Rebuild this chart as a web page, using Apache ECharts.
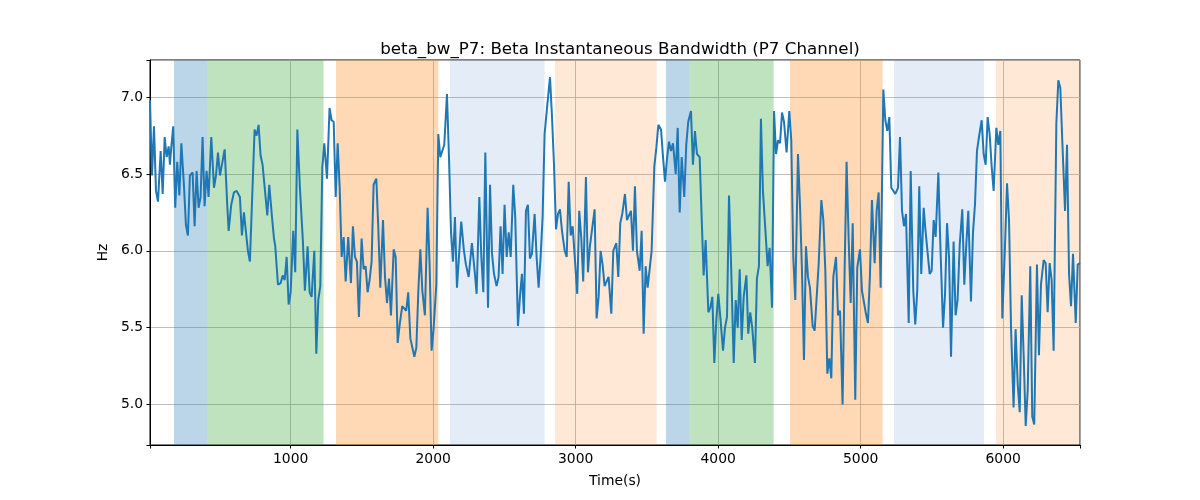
<!DOCTYPE html>
<html><head><meta charset="utf-8">
<script src="https://cdn.jsdelivr.net/npm/echarts@6/dist/echarts.min.js"></script>
<style>html,body{margin:0;padding:0;background:#fff}#c{width:1200px;height:500px}</style>
</head><body><div id="c"></div>
<script>
const times = [
13,27,41,55,69,88,102,116,130,144,153,162,176,190,204,219,233,251,265,279,293,312,326,340,354,368,382,396,410,424,443,462,476,490,504,518,537,555,565,583,602,621,635,644,658,672,686,700,714,728,747,761,775,789,803,817,836,850,869,883,892,911,930,944,958,972,986,1000,1018,1032,1047,1065,
1086,1100,1119,1133,1147,1166,1180,1194,1208,1222,1236,1255,1273,1287,1302,1316,1330,1344,1358,1372,1386,1404,1423,1437,1451,1465,1479,1498,1512,1526,1540,1554,1568,1582,1601,1615,1629,1648,1662,1676,1690,1704,1723,1737,1751,1765,1783,1797,1811,1825,1840,1854,1868,1882,1896,1910,1924,1942,1961,1975,1989,2003,2022,2036,2050,2064,2078,2097,2111,2125,2139,2153,2167,
2197,2216,2230,2249,2272,2291,2305,2324,2338,2352,2366,2385,2399,2413,2427,2445,2459,2473,2487,2501,2516,2530,2544,2562,2576,2595,2609,2623,2637,2651,2665,2679,2693,2712,2726,2740,2754,2768,2782,2801,2820,2834,2848,2862,2876,2890,2904,2923,2937,2951,2965,2979,2993,3011,3025,3039,3053,3072,3086,3100,3114,3133,3147,3161,3175,3189,3203,3217,3231,3250,3264,
3285,3299,3313,3327,3346,3360,3374,3388,3402,3416,3430,3449,3463,3477,3491,3505,3519,3533,3552,3566,3580,3599,3613,3627,3641,3655,3669,3683,3702,3716,3730,3744,3762,3776,3790,3809,3823,3837,3851,3870,3884,3898,3912,3931,3945,3959,3973,3987,4001,4015,4034,4048,4062,4076,4090,4109,4123,4137,4151,4165,4179,4198,4211,4225,4239,4258,4272,4286,4300,4314,4328,4347,4361,
4378,4392,4406,4420,4434,4448,4462,4480,4499,4513,4527,4541,4560,4574,4588,4602,4616,4630,4644,4663,4677,4691,4705,4724,4738,4752,4766,4780,4794,4808,4827,4841,4855,4873,4887,4901,4916,4930,4944,4962,4976,4995,5009,5023,5037,5051,5065,5079,5098,5112,5126,5140,5159,5173,5187,5201,5215,5229,5243,5262,5276,5290,5304,5318,5337,5351,5369,5383,5397,5411,5425,
5442,5456,5470,5484,5498,5512,5526,5545,5559,5578,5592,5606,5620,5634,5652,5666,5680,5695,5713,5727,5741,5755,5774,5788,5802,5816,5830,5849,5863,5877,5891,5905,5919,5933,5952,5966,5980,5994,6013,6027,6041,6055,6073,6087,6102,6116,6130,6144,6158,6172,6190,6204,6218,6237,6251,6265,6284,6298,6312,6326,6340,6354,6373,6387,6401,6415,6434,6448,6462,6476,6490,6509,6523,6539
];
const values = [
6.98,6.49,6.81,6.39,6.32,6.65,6.37,6.74,6.61,6.68,6.56,6.67,6.81,6.28,6.58,6.36,6.70,6.43,6.17,6.10,6.49,6.51,6.16,6.52,6.28,6.35,6.74,6.29,6.52,6.35,6.74,6.41,6.49,6.64,6.49,6.49,6.66,6.30,6.13,6.30,6.38,6.39,6.38,6.35,6.10,6.25,6.26,6.00,5.93,5.92,6.79,6.75,6.82,6.62,6.56,6.57,6.23,6.43,6.22,6.08,6.03,5.78,5.79,5.84,5.81,5.96,5.65,5.73,6.13,5.86,6.79,6.41,
6.06,5.74,6.03,5.73,5.70,6.00,5.33,5.68,5.77,6.54,6.70,6.47,6.93,6.85,6.84,6.35,6.70,6.41,5.96,6.09,5.80,6.09,5.79,6.16,5.96,5.93,5.57,6.08,5.88,5.90,5.73,5.81,5.93,6.43,6.47,6.15,5.76,6.20,5.83,5.66,5.82,5.58,6.01,5.96,5.40,5.52,5.64,5.64,5.61,5.73,5.43,5.43,5.31,5.37,5.74,6.01,5.74,5.58,6.28,5.91,5.35,5.49,5.78,6.76,6.61,6.62,6.69,7.02,6.61,6.13,5.93,6.22,5.76,
6.19,6.00,5.91,5.83,6.05,5.87,5.72,6.35,5.96,5.73,6.64,5.63,6.43,5.98,5.85,5.77,5.83,6.16,5.85,6.30,5.96,6.12,5.96,6.43,6.22,5.51,5.70,5.85,5.59,6.26,6.30,5.95,5.98,6.24,5.96,5.76,5.96,6.22,6.76,6.95,7.13,6.87,6.56,6.14,6.24,6.27,6.13,6.00,5.96,6.45,6.10,6.16,6.15,5.72,6.26,6.09,5.80,6.48,5.86,6.03,6.04,6.27,5.56,5.70,6.00,5.91,5.77,5.76,5.83,5.59,6.00,
6.05,5.83,6.18,6.24,6.37,6.20,6.20,6.26,6.00,6.42,6.00,5.87,6.13,5.46,5.90,5.76,5.77,6.00,6.55,6.67,6.82,6.79,6.61,6.45,6.60,6.71,6.65,6.70,6.50,6.80,6.25,6.61,6.35,6.69,6.84,6.91,6.56,6.78,6.63,6.61,6.22,5.84,6.07,5.60,5.63,5.70,5.27,5.55,5.72,5.57,5.35,5.50,5.57,6.36,5.93,5.27,5.68,5.50,5.88,5.42,5.70,5.84,5.46,5.60,5.50,5.27,5.82,5.90,6.86,6.39,6.39,5.90,6.02,
5.63,6.91,6.63,6.72,6.70,6.90,6.84,6.64,6.91,6.72,5.96,5.68,6.63,6.30,5.87,5.29,6.03,5.83,5.76,5.51,5.48,5.49,5.91,6.33,6.20,5.87,5.20,5.30,5.17,5.83,5.96,5.58,5.61,5.00,5.85,6.58,6.06,5.66,6.18,5.03,5.89,6.01,5.74,5.74,5.59,5.53,5.84,6.33,5.92,6.26,6.38,5.76,7.05,6.85,6.78,6.87,6.41,6.41,6.37,6.41,6.74,6.26,6.16,6.24,5.53,6.52,5.74,5.52,5.74,6.42,5.85,
6.28,6.12,6.11,5.85,5.87,6.20,6.09,6.51,6.04,5.50,5.72,6.18,5.96,5.31,6.06,5.58,5.68,6.04,6.27,5.78,6.04,6.26,5.67,6.12,6.30,6.65,6.74,6.85,6.63,6.56,6.87,6.76,6.55,6.39,6.80,6.69,6.78,5.56,6.04,6.44,6.20,5.50,4.98,5.49,5.13,4.95,5.71,5.31,4.86,5.09,5.90,4.92,4.87,5.91,5.32,5.78,5.94,5.92,5.60,5.92,5.81,5.35,6.83,7.11,7.06,6.71,6.26,6.69,5.85,5.64,5.98,5.53,5.91,5.92
];
const spanStarts = [181, 415, 1318, 2118, 2855, 3634, 3800, 4504, 5234, 5949];
const spanEnds   = [415, 1231, 2036, 2782, 3568, 3800, 4389, 5154, 5865, 6539];
const spanKinds  = ['blue','green','orange','lightblue','lightorange','blue','green','orange','lightblue','lightorange'];
const xTickLabels = [1000, 2000, 3000, 4000, 5000, 6000];
const yTickLabels = [5.0, 5.5, 6.0, 6.5, 7.0];

const kindColor = {
  blue: 'rgba(31,119,180,0.3)',
  green: 'rgba(44,160,44,0.3)',
  orange: 'rgba(255,127,14,0.3)',
  lightblue: 'rgba(60,120,200,0.14)',
  lightorange: 'rgba(255,127,14,0.17)'
};

const lineData = times.map((t, i) => [t, values[i]]);
const areas = spanStarts.map((s, i) => [
  { xAxis: s, itemStyle: { color: kindColor[spanKinds[i]] } },
  { xAxis: spanEnds[i] }
]);

const FONT = 'DejaVu Sans';
const chart = echarts.init(document.getElementById('c'), null, { renderer: 'canvas' });
chart.setOption({
  animation: false,
  backgroundColor: '#fff',
  title: {
    text: 'beta_bw_P7: Beta Instantaneous Bandwidth (P7 Channel)',
    left: 615, top: 36, textAlign: 'center',
    textStyle: { fontFamily: FONT, fontSize: 16.7, fontWeight: 'normal', color: '#000' }
  },
  grid: { left: 150, right: 120, top: 60, bottom: 55, show: true, borderColor: '#000', borderWidth: 1, backgroundColor: 'transparent' },
  xAxis: {
    type: 'value', min: 13, max: 6539,
    name: 'Time(s)', nameLocation: 'middle', nameGap: 29,
    nameTextStyle: { fontFamily: FONT, fontSize: 13.9, color: '#000' },
    axisLine: { show: true, lineStyle: { color: '#000', width: 1 } },
    axisTick: { show: true, length: 3.5, lineStyle: { color: '#000' } },
    axisLabel: {
      margin: 7, fontFamily: FONT, fontSize: 13.9, color: '#000',
      formatter: v => xTickLabels.some(t => Math.abs(t - v) < 1e-6) ? String(v) : ''
    },
    splitLine: { show: true, lineStyle: { color: '#b0b0b0', width: 0.8 } }
  },
  yAxis: {
    type: 'value', min: 4.736, max: 7.242,
    name: 'Hz', nameLocation: 'middle', nameGap: 40,
    nameTextStyle: { fontFamily: FONT, fontSize: 13.9, color: '#000' },
    axisLine: { show: true, lineStyle: { color: '#000', width: 1 } },
    axisTick: { show: true, length: 3.5, lineStyle: { color: '#000' } },
    axisLabel: {
      margin: 7, fontFamily: FONT, fontSize: 13.9, color: '#000',
      formatter: v => yTickLabels.some(t => Math.abs(t - v) < 1e-6) ? v.toFixed(1) : ''
    },
    splitLine: { show: true, lineStyle: { color: '#b0b0b0', width: 0.8 } }
  },
  series: [
    {
      type: 'line', data: [], z: -1, silent: true,
      markArea: { silent: true, data: areas }
    },
    {
      type: 'line', data: lineData, showSymbol: false, symbol: 'none', z: 5,
      lineStyle: { color: '#1f77b4', width: 2 }
    }
  ]
});
</script></body></html>
